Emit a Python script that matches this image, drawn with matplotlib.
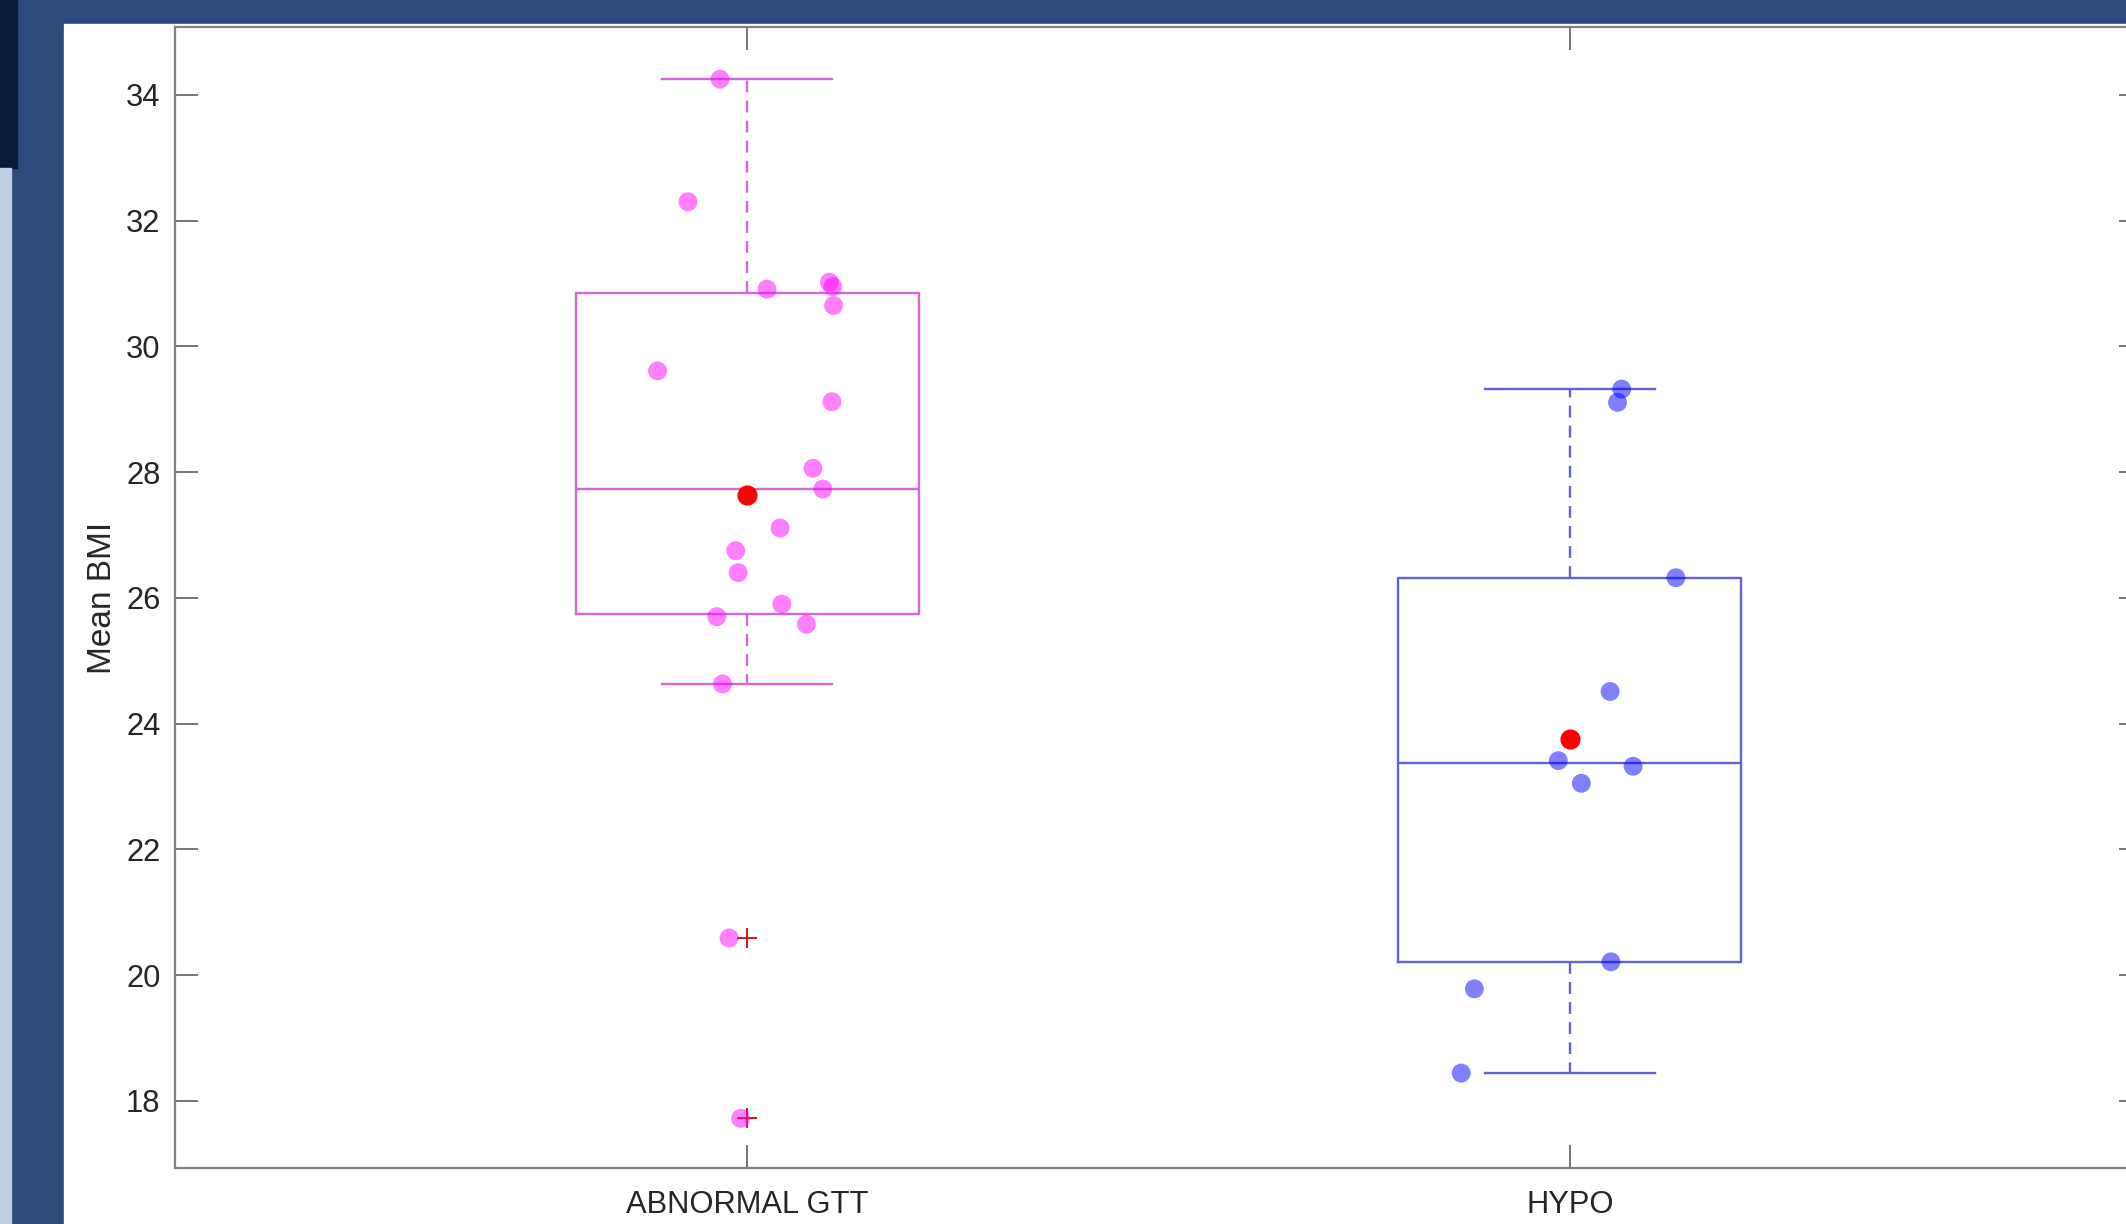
import numpy as np
import matplotlib
matplotlib.use("Agg")
import matplotlib.pyplot as plt
from matplotlib.patches import Rectangle

plt.rcParams["font.family"] = ["Liberation Sans", "DejaVu Sans"]

groups = ["ABNORMAL GTT", "HYPO"]

# jittered x positions and BMI values
gtt_x = [0.967, 0.928, 1.024, 1.100, 1.104, 1.105, 0.891, 1.103, 1.080, 1.092,
         1.040, 0.986, 0.989, 1.042, 0.963, 1.072, 0.970, 0.978, 0.992]
gtt_bmi = [34.25, 32.30, 30.91, 31.02, 30.95, 30.65, 29.61, 29.12, 28.06, 27.73,
           27.11, 26.75, 26.40, 25.90, 25.70, 25.58, 24.63, 20.59, 17.72]

hypo_x = [2.063, 2.058, 2.129, 2.049, 1.986, 2.077, 2.014, 2.050, 1.884, 1.868]
hypo_bmi = [29.32, 29.11, 26.32, 24.51, 23.41, 23.32, 23.05, 20.21, 19.78, 18.44]

box_colors = ["#d466dc", "#6262d8"]
dot_colors = ["#ff00ff", "#0000ff"]


def box_stats(vals, whis=1.0):
    vals = np.asarray(vals)
    q1, med, q3 = np.percentile(vals, [25, 50, 75], method="hazen")
    iqr = q3 - q1
    lo = vals[vals >= q1 - whis * iqr].min()
    hi = vals[vals <= q3 + whis * iqr].max()
    fl = vals[(vals < lo) | (vals > hi)]
    return dict(med=med, q1=q1, q3=q3, whislo=lo, whishi=hi, fliers=fl)


W, H = 2126, 1224
fig = plt.figure(figsize=(W / 100, H / 100), dpi=100)
fig.patch.set_facecolor("#2b4a7b")

# slide background pieces
fig.patches.append(Rectangle((64 / W, 0), (W - 64) / W, (H - 24) / H,
                             transform=fig.transFigure, color="white", zorder=-5))
fig.patches.append(Rectangle((0, (H - 168) / H), 17 / W, 168 / H,
                             transform=fig.transFigure, color="#09193a", zorder=-5))
fig.patches.append(Rectangle((0, 0), 11 / W, (H - 168) / H,
                             transform=fig.transFigure, color="#bfcfe3", zorder=-5))

ax = fig.add_axes([175 / W, (H - 1168) / H, (2142 - 175) / W, (1168 - 27) / H])

stats = [box_stats(gtt_bmi), box_stats(hypo_bmi)]
bp = ax.bxp(stats, positions=[1, 2], widths=0.417, capwidths=0.207,
            showfliers=True,
            flierprops=dict(marker="+", markeredgecolor="#e00000",
                            markersize=15, markeredgewidth=1.3, linestyle="none"),
            medianprops=dict(linewidth=1.7),
            boxprops=dict(linewidth=1.7),
            whiskerprops=dict(linewidth=1.7, linestyle=(0, (5, 3.5))),
            capprops=dict(linewidth=1.7))

for i, c in enumerate(box_colors):
    bp["boxes"][i].set_color(c)
    bp["medians"][i].set_color(c)
    for j in (2 * i, 2 * i + 1):
        bp["whiskers"][j].set_color(c)
        bp["caps"][j].set_color(c)

ax.scatter(gtt_x, gtt_bmi, s=185, color=dot_colors[0], alpha=0.5,
           edgecolors="none", zorder=3)
ax.scatter(hypo_x, hypo_bmi, s=185, color=dot_colors[1], alpha=0.5,
           edgecolors="none", zorder=3)

# group means in red
means = [np.mean(gtt_bmi), np.mean(hypo_bmi)]
ax.plot([1, 2], means, "o", color="red", markersize=13.5, linestyle="none", zorder=4)

ax.set_xlim(0.3044, 2.6956)
ax.set_ylim(16.93, 35.08)
ax.set_yticks(np.arange(18, 35, 2))
ax.set_xticks([1, 2])
ax.set_xticklabels(groups)

ax.tick_params(direction="in", length=16.5, width=1.3, color="#6a6a6a",
               labelcolor="#262626", labelsize=22.2, top=True, right=True)
ax.tick_params(axis="y", pad=10.5)
ax.tick_params(axis="x", pad=16)

for sp in ax.spines.values():
    sp.set_color("#808080")
    sp.set_linewidth(1.6)

ax.set_ylabel("Mean BMI", fontsize=24, color="#262626", labelpad=6)

fig.savefig("out.png", dpi=100)
